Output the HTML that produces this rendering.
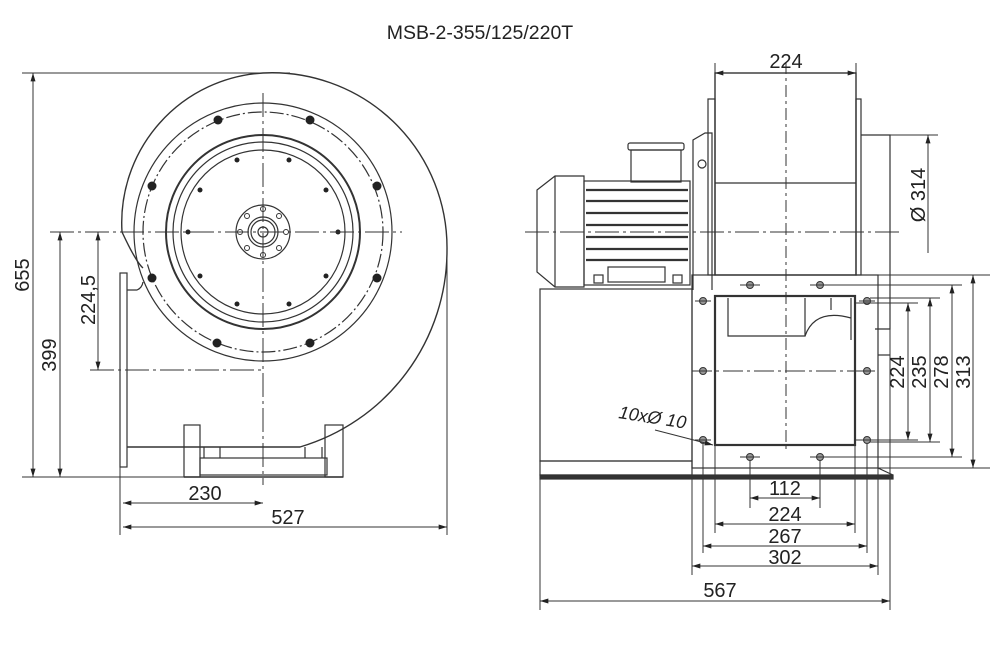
<!DOCTYPE html>
<html><head><meta charset="utf-8"><style>
html,body{margin:0;padding:0;background:#fff;}
svg{display:block;}
text{font-family:"Liberation Sans",Arial,sans-serif;fill:#222;}
</style></head><body>
<svg width="1000" height="660" viewBox="0 0 1000 660" xmlns="http://www.w3.org/2000/svg">
<defs>
<marker id="a" viewBox="0 0 10 6" refX="10" refY="3" markerWidth="9" markerHeight="5" orient="auto-start-reverse" markerUnits="userSpaceOnUse"><path d="M0,0 L10,3 L0,6 z" fill="#222"/></marker>
</defs>
<text x="480" y="39" font-size="19.5" text-anchor="middle">MSB-2-355/125/220T</text>

<g stroke="#333" fill="none" stroke-width="1.2">
<path d="M143,268 Q136,262 122,232 A150,150 0 0 1 263,73 A175,175 0 0 1 447,250 A205,205 0 0 1 300,447 L127,447" stroke-width="1.4"/>
<path d="M127,290 L137,290 Q142,288 143,282"/>
<rect x="120" y="273" width="7" height="194"/>
<circle cx="263" cy="232" r="129"/>
<circle cx="263" cy="232" r="120" stroke-dasharray="14,3,2,3"/>
<circle cx="263" cy="232" r="97" stroke-width="2"/>
<circle cx="263" cy="232" r="90"/>
<circle cx="263" cy="232" r="82"/>
<circle cx="263" cy="232" r="27"/>
<circle cx="263" cy="232" r="15"/>
<circle cx="263" cy="232" r="12"/>
<circle cx="263" cy="232" r="5"/>
<g stroke-width="1">
<circle cx="263" cy="209" r="2.5"/><circle cx="263" cy="255" r="2.5"/>
<circle cx="240" cy="232" r="2.5"/><circle cx="286" cy="232" r="2.5"/>
<circle cx="247" cy="216" r="2.5"/><circle cx="279" cy="216" r="2.5"/>
<circle cx="247" cy="248" r="2.5"/><circle cx="279" cy="248" r="2.5"/>
</g>
<rect x="184" y="425" width="16" height="52"/>
<rect x="325" y="425" width="18" height="52"/>
<rect x="200" y="458" width="127" height="17"/>
<line x1="204" y1="447" x2="204" y2="458"/><line x1="220" y1="447" x2="220" y2="458"/>
<line x1="305" y1="447" x2="305" y2="458"/><line x1="322" y1="447" x2="322" y2="458"/>
<line x1="184" y1="477" x2="343" y2="477" stroke-width="1.6"/>
</g>
<g fill="#222">
<circle cx="218" cy="120" r="4.5"/><circle cx="310" cy="120" r="4.5"/>
<circle cx="152" cy="186" r="4.5"/><circle cx="377" cy="186" r="4.5"/>
<circle cx="152" cy="278" r="4.5"/><circle cx="377" cy="278" r="4.5"/>
<circle cx="217" cy="343" r="4.5"/><circle cx="310" cy="343" r="4.5"/>
<circle cx="237" cy="160" r="2.5"/><circle cx="289" cy="160" r="2.5"/>
<circle cx="200" cy="190" r="2.5"/><circle cx="326" cy="190" r="2.5"/>
<circle cx="188" cy="232" r="2.5"/><circle cx="338" cy="232" r="2.5"/>
<circle cx="200" cy="276" r="2.5"/><circle cx="326" cy="276" r="2.5"/>
<circle cx="237" cy="304" r="2.5"/><circle cx="289" cy="304" r="2.5"/>
</g>
<g stroke="#333" stroke-width="1" fill="none">
<line x1="263" y1="93" x2="263" y2="485" stroke-dasharray="24,4,3,4"/>
<line x1="50" y1="232" x2="402" y2="232" stroke-dasharray="24,4,3,4"/>
<line x1="90" y1="370" x2="263" y2="370" stroke-dasharray="24,4,3,4"/>
<line x1="22" y1="73" x2="290" y2="73"/>
<line x1="22" y1="477" x2="200" y2="477"/>
<line x1="33" y1="73" x2="33" y2="477" marker-start="url(#a)" marker-end="url(#a)"/>
<line x1="60" y1="232" x2="60" y2="477" marker-start="url(#a)" marker-end="url(#a)"/>
<line x1="98" y1="232" x2="98" y2="370" marker-start="url(#a)" marker-end="url(#a)"/>
<line x1="120" y1="467" x2="120" y2="535"/>
<line x1="447" y1="250" x2="447" y2="535"/>
<line x1="123" y1="503" x2="263" y2="503" marker-start="url(#a)" marker-end="url(#a)"/>
<line x1="123" y1="527" x2="447" y2="527" marker-start="url(#a)" marker-end="url(#a)"/>
</g>
<g font-size="20">
<text transform="translate(29,275) rotate(-90)" text-anchor="middle">655</text>
<text transform="translate(56,355) rotate(-90)" text-anchor="middle">399</text>
<text transform="translate(95,300) rotate(-90)" text-anchor="middle">224,5</text>
<text x="205" y="500" text-anchor="middle">230</text>
<text x="288" y="524" text-anchor="middle">527</text>
</g>

<g stroke="#333" fill="none" stroke-width="1.2">
<rect x="715" y="73" width="141" height="202" stroke-width="1.4"/>
<rect x="708" y="99" width="7" height="176"/>
<rect x="856" y="99" width="5" height="176"/>
<line x1="715" y1="183" x2="856" y2="183"/>
<path d="M861,135 L890,135 L890,329 L875,329"/>
<path d="M693,290 L693,140 L705,133 L712,133 L712,290"/>
<circle cx="702" cy="164" r="4"/>
<path d="M537,190 L555,176 L584,176 L584,287 L555,287 L537,272 Z"/>
<line x1="555" y1="176" x2="555" y2="287"/>
<rect x="584" y="181" width="106" height="104"/>
<g stroke-width="2.2">
<line x1="586" y1="190" x2="688" y2="190"/><line x1="586" y1="201" x2="688" y2="201"/>
<line x1="586" y1="213" x2="688" y2="213"/><line x1="586" y1="225" x2="688" y2="225"/>
<line x1="586" y1="237" x2="688" y2="237"/><line x1="586" y1="249" x2="688" y2="249"/>
<line x1="586" y1="260" x2="688" y2="260"/>
</g>
<rect x="631" y="150" width="50" height="32"/>
<rect x="628" y="143" width="56" height="7" rx="2"/>
<rect x="608" y="267" width="57" height="15"/>
<rect x="594" y="275" width="9" height="8"/><rect x="673" y="275" width="9" height="8"/>
<rect x="540" y="289" width="152" height="172"/>
<rect x="540" y="461" width="152" height="14"/>
<rect x="540" y="475" width="353" height="4" fill="#333"/>
<rect x="692" y="275" width="186" height="193"/>
<rect x="715" y="296" width="140" height="149" stroke-width="2.2"/>
<path d="M728,298 L728,336 L805,336 L805,298"/>
<path d="M805,336 Q815,308 851,318"/>
<line x1="831" y1="298" x2="831" y2="310"/><line x1="851" y1="298" x2="851" y2="340"/>
<line x1="878" y1="468" x2="893" y2="475"/>
<line x1="878" y1="355" x2="890" y2="355"/>
</g>
<g stroke="#333" stroke-width="1" fill="#999">
<circle cx="750" cy="285" r="3.5"/><circle cx="820" cy="285" r="3.5"/>
<circle cx="750" cy="457" r="3.5"/><circle cx="820" cy="457" r="3.5"/>
<circle cx="703" cy="301" r="3.5"/><circle cx="867" cy="301" r="3.5"/>
<circle cx="703" cy="371" r="3.5"/><circle cx="867" cy="371" r="3.5"/>
<circle cx="703" cy="440" r="3.5"/><circle cx="867" cy="440" r="3.5"/>
</g>
<g stroke="#333" stroke-width="1" fill="none">
<path d="M740,285h20M810,285h20M740,457h20M810,457h20M695,301h16M859,301h16M695,371h16M859,371h16M695,440h16M859,440h16"/>
<line x1="786" y1="62" x2="786" y2="450" stroke-dasharray="12,4,3,4"/>
<line x1="525" y1="232" x2="900" y2="232" stroke-dasharray="24,4,3,4"/>
<line x1="692" y1="371" x2="878" y2="371" stroke-dasharray="20,4,3,4"/>
<line x1="715" y1="63" x2="715" y2="73"/><line x1="856" y1="63" x2="856" y2="73"/>
<line x1="715" y1="73" x2="856" y2="73" marker-start="url(#a)" marker-end="url(#a)"/>
<line x1="890" y1="135" x2="938" y2="135"/>
<line x1="928" y1="135" x2="928" y2="253" marker-start="url(#a)"/>
<line x1="878" y1="275" x2="990" y2="275"/>
<line x1="878" y1="468" x2="990" y2="468"/>
<line x1="830" y1="285" x2="962" y2="285"/>
<line x1="830" y1="457" x2="962" y2="457"/>
<line x1="870" y1="298" x2="940" y2="298"/>
<line x1="870" y1="442" x2="940" y2="442"/>
<line x1="856" y1="303" x2="918" y2="303"/>
<line x1="856" y1="440" x2="918" y2="440"/>
<line x1="973" y1="275" x2="973" y2="468" marker-start="url(#a)" marker-end="url(#a)"/>
<line x1="952" y1="285" x2="952" y2="457" marker-start="url(#a)" marker-end="url(#a)"/>
<line x1="930" y1="298" x2="930" y2="442" marker-start="url(#a)" marker-end="url(#a)"/>
<line x1="908" y1="303" x2="908" y2="440" marker-start="url(#a)" marker-end="url(#a)"/>
<line x1="750" y1="460" x2="750" y2="508"/><line x1="820" y1="460" x2="820" y2="508"/>
<line x1="715" y1="445" x2="715" y2="533"/><line x1="855" y1="445" x2="855" y2="533"/>
<line x1="703" y1="444" x2="703" y2="553"/><line x1="867" y1="444" x2="867" y2="553"/>
<line x1="692" y1="468" x2="692" y2="575"/><line x1="878" y1="468" x2="878" y2="575"/>
<line x1="540" y1="479" x2="540" y2="610"/><line x1="890" y1="329" x2="890" y2="610"/>
<line x1="750" y1="498" x2="820" y2="498" marker-start="url(#a)" marker-end="url(#a)"/>
<line x1="715" y1="524" x2="855" y2="524" marker-start="url(#a)" marker-end="url(#a)"/>
<line x1="703" y1="546" x2="867" y2="546" marker-start="url(#a)" marker-end="url(#a)"/>
<line x1="692" y1="566" x2="878" y2="566" marker-start="url(#a)" marker-end="url(#a)"/>
<line x1="540" y1="601" x2="890" y2="601" marker-start="url(#a)" marker-end="url(#a)"/>
<line x1="655" y1="430" x2="713" y2="445" marker-end="url(#a)"/>
</g>
<g font-size="20">
<text x="786" y="68" text-anchor="middle">224</text>
<text transform="translate(925,195) rotate(-90)" text-anchor="middle">Ø 314</text>
<text transform="translate(904,372) rotate(-90)" text-anchor="middle">224</text>
<text transform="translate(926,372) rotate(-90)" text-anchor="middle">235</text>
<text transform="translate(948,372) rotate(-90)" text-anchor="middle">278</text>
<text transform="translate(970,372) rotate(-90)" text-anchor="middle">313</text>
<text x="785" y="495" text-anchor="middle">112</text>
<text x="785" y="521" text-anchor="middle">224</text>
<text x="785" y="543" text-anchor="middle">267</text>
<text x="785" y="564" text-anchor="middle">302</text>
<text x="720" y="597" text-anchor="middle">567</text>
<text transform="translate(618,418) rotate(9)" font-style="italic" font-size="18">10xØ 10</text>
</g>
</svg>
</body></html>
